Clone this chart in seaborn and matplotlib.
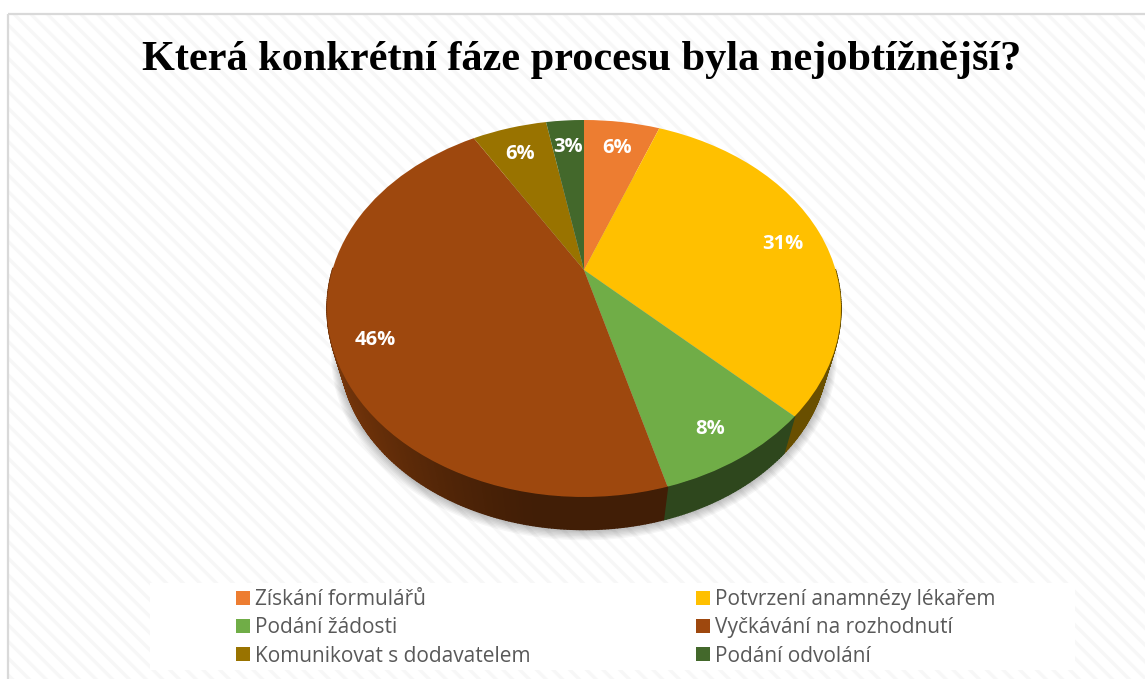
import numpy as np
import matplotlib
matplotlib.use("Agg")
import matplotlib.pyplot as plt
from matplotlib.patches import Rectangle, Polygon
from matplotlib.collections import PolyCollection
from matplotlib.transforms import Transform, Affine2D
import seaborn as sns

title = "Která konkrétní fáze procesu byla nejobtížnější?"
categories = ["Získání formulářů", "Potvrzení anamnézy lékařem", "Podání žádosti",
              "Vyčkávání na rozhodnutí", "Komunikovat s dodavatelem", "Podání odvolání"]
shares = [5.8, 31.45, 8.45, 45.7, 5.7, 2.9]
colors = ["#ED7D31", "#FFC000", "#70AD47", "#9E480E", "#997300", "#43682B"]

sns.set_theme(style="white")
palette = sns.color_palette(colors)
plt.rcParams["hatch.linewidth"] = 2.4

W, H = 1145, 679
CX, CY, A, B, K = 584.0, 270.0, 180.6, 251.6, 0.204


def project(xy):
    xy = np.asarray(xy, float)
    w = 1 + K * xy[..., 1]
    return np.stack([CX + B * xy[..., 0] / w, CY - A * xy[..., 1] / w], axis=-1)


def lower(p):
    q = np.array(p, float)
    q[..., 0] = CX + 0.95 * (q[..., 0] - CX)
    q[..., 1] = CY + 0.95 * (q[..., 1] - CY) + 44
    return q


class Tilt(Transform):
    input_dims = output_dims = 2
    has_inverse = False
    is_affine = False

    def transform_non_affine(self, values):
        return project(values)


fig = plt.figure(figsize=(W / 100, H / 100), dpi=100, facecolor="white")
ax = fig.add_axes([0, 0, 1, 1])

wedges, _, autotexts = ax.pie(
    shares, colors=palette, startangle=90, counterclock=False, radius=1,
    autopct=lambda v: f"{v:.0f}%", pctdistance=0.84,
    wedgeprops=dict(linewidth=0),
    textprops=dict(color="white", fontweight="bold", fontsize=14.5, family="Open Sans"),
)
ax.set_aspect("auto")
ax.set_xlim(0, W)
ax.set_ylim(H, 0)
ax.axis("off")

tilt = Tilt() + ax.transData
for w in wedges:
    w.set_transform(tilt)
    w.set_zorder(5)
for t in autotexts:
    t.set_transform(tilt + Affine2D().translate(0, -6))
    t.set_zorder(6)

# background
ax.add_patch(Rectangle((8, 14), W, H, facecolor="white", edgecolor="#f7f7f7",
                       hatch="\\\\", linewidth=0, zorder=0))
ax.add_patch(Rectangle((8, 14), W, H, fill=False, edgecolor="#d9d9d9", linewidth=1.6, zorder=1))
ax.add_patch(Rectangle((150, 583), 925, 87, facecolor="white", edgecolor="none", zorder=1))

# side wall (front half only)
edges = np.concatenate([[0], np.cumsum(shares)]) / 100 * 2 * np.pi
polys, fcs = [], []
for i, c in enumerate(palette):
    th = np.linspace(edges[i], edges[i + 1], max(3, int(shares[i] * 6)))
    top = project(np.stack([np.sin(th), np.cos(th)], axis=-1))
    bot = lower(top)
    for j in range(len(th) - 1):
        if np.cos(th[j]) > 0 and np.cos(th[j + 1]) > 0:
            continue
        polys.append([top[j], top[j + 1], bot[j + 1], bot[j]])
        xm = (top[j, 0] - CX) / 257
        f = 0.41 + 0.34 * np.clip((-xm - 0.15) / 0.85, 0, 1) ** 1.5
        fcs.append(tuple(np.array(c) * f))
ax.add_collection(PolyCollection(polys, facecolors=fcs, edgecolors=fcs, linewidths=1.0, zorder=4))

# soft shadow
th = np.linspace(0, 2 * np.pi, 240)
base = lower(project(np.stack([np.sin(th), np.cos(th)], axis=-1)))
mid = base.mean(axis=0)
for g in np.linspace(1, 9, 8):
    ax.add_patch(Polygon(base + (base - mid) * g / 250 + [0, g * 0.4], closed=True,
                         facecolor="black", edgecolor="none", alpha=0.035, zorder=2))

ax.text(581.5, 60, title, ha="center", va="center", family="Liberation Serif",
        fontweight="bold", fontsize=30.4, color="black", zorder=6)

order = [0, 2, 4, 1, 3, 5]
leg = ax.legend([wedges[i] for i in order], [categories[i] for i in order], ncol=2,
                loc="upper left", bbox_to_anchor=(236 / W, 1 - 589 / H),
                bbox_transform=fig.transFigure, frameon=False, borderpad=0, borderaxespad=0,
                handlelength=0.67, handleheight=0.67, handletextpad=0.25, labelspacing=0.35,
                columnspacing=7.95,
                prop=dict(family="Open Sans", size=15))
leg.set_zorder(7)
for t in leg.get_texts():
    t.set_color("#595959")

fig.savefig("out.png", dpi=100, facecolor="white")
